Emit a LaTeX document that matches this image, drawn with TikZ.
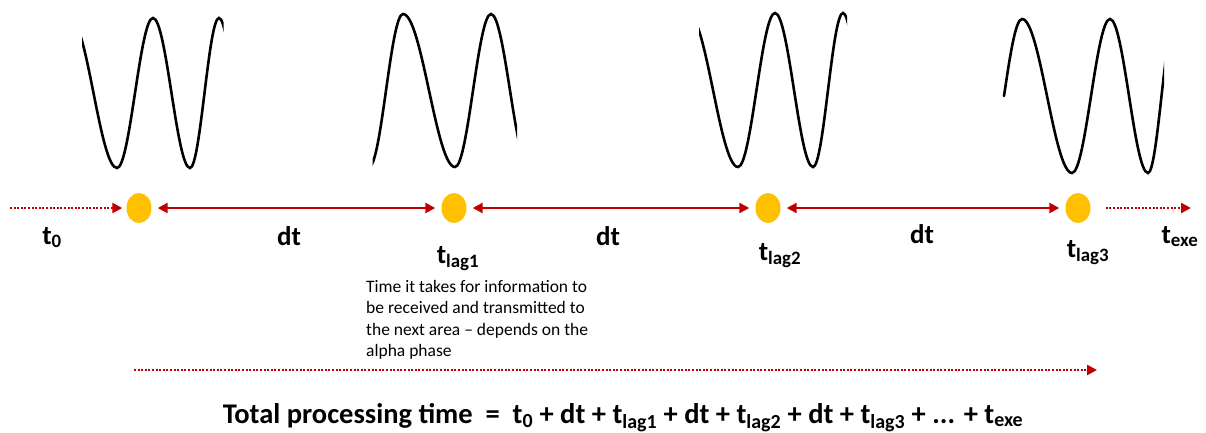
\documentclass[tikz,border=0pt]{standalone}
\usepackage{fontspec}
\setmainfont{Carlito}
\usetikzlibrary{arrows.meta,shapes.geometric,positioning}

\definecolor{lagred}{HTML}{C00000}
\definecolor{spotyellow}{HTML}{FFC000}

\tikzset{
  wave/.style={line width=2.6pt, black, line cap=round},
  spot/.style={ellipse, fill=spotyellow, inner sep=0pt, minimum width=25pt, minimum height=30pt},
  lagline/.style={line width=2.4pt, lagred, {Triangle[length=10pt,width=10pt]}-{Triangle[length=10pt,width=10pt]}, shorten <=6pt, shorten >=6pt},
  dotline/.style={line width=2.4pt, lagred, dash pattern=on 2pt off 1.6pt, -{Triangle[length=10pt,width=10pt]}},
  tlabel/.style={anchor=base, font=\bfseries\fontsize{27}{32}\selectfont},
}
\newcommand{\tsub}[1]{t\textsubscript{#1}}

\begin{document}
\begin{tikzpicture}[x=1pt,y=-1pt]
\useasboundingbox (0,0) rectangle (1206,432);

% oscillations
\begin{scope}
  \clip (82,0) rectangle (223.5,200);
  \draw[wave] (70,18) cos (93.5,93) sin (117,168) cos (135,93) sin (153,18) cos (171.5,93) sin (190,168) cos (204.5,93) sin (219,18) cos (234,93);
\end{scope}
\begin{scope}
  \clip (372.5,0) rectangle (517,200);
  \draw[wave] (369,167) cos (386,90.5) sin (403,14) cos (429,90.5) sin (455,167) cos (473,90.5) sin (491,14) cos (510,90.5) sin (529,167);
\end{scope}
\begin{scope}
  \clip (699,0) rectangle (847,200);
  \draw[wave] (688,13) cos (713,90) sin (738,167) cos (756.5,90) sin (775,13) cos (794,90) sin (813,167) cos (828,90) sin (843,13) cos (858,90);
\end{scope}
\begin{scope}
  \clip (1000,0) rectangle (1164,200);
  \draw[wave] (1004,96) sin (1022,19) cos (1047,96) sin (1072,173) cos (1091,96) sin (1110,19) cos (1129,96) sin (1148,173) cos (1161.5,96) sin (1175,19);
\end{scope}

% time points
\foreach \n/\x in {s0/139,s1/454,s2/768,s3/1078} {
  \node[spot] (\n) at (\x,208) {};
}
\coordinate (start) at (10,208);
\coordinate (exe) at (1191,208);
\draw[dotline, shorten >=4pt] (start) -- (s0);
\draw[lagline] (s0) -- (s1);
\draw[lagline] (s1) -- (s2);
\draw[lagline] (s2) -- (s3);
\draw[dotline, shorten <=15pt] (s3) -- (exe);

% labels
\node[tlabel] (t0) at (52,244) {\tsub{0}};
\foreach \n/\x/\y in {dt1/289/245,dt2/608/245,dt3/922/243} {
  \node[tlabel] (\n) at (\x,\y) {dt};
}
\node[tlabel] (lag1) at (458,263) {\tsub{lag1}};
\node[tlabel] (lag2) at (780,260) {\tsub{lag2}};
\node[tlabel] (lag3) at (1088,257) {\tsub{lag3}};
\node[tlabel] (texe) at (1180,243) {\tsub{exe}};

\node[anchor=north west, align=left, inner sep=0pt, font=\fontsize{17.5}{21.5}\selectfont] (note) at (366,280)
  {Time it takes for information to\\be received and transmitted to\\the next area -- depends on the\\alpha phase};

% total
\coordinate (sum0) at (134,370);
\coordinate (sum1) at (1097,370);
\draw[dotline] (sum0) -- (sum1);
\node[tlabel, font=\bfseries\fontsize{28.5}{34}\selectfont] (total) at (623,423)
  {Total processing time \ = \ \tsub{0} + dt + \tsub{lag1} + dt + \tsub{lag2} + dt + \tsub{lag3} + ... + \tsub{exe}};
\end{tikzpicture}
\end{document}
